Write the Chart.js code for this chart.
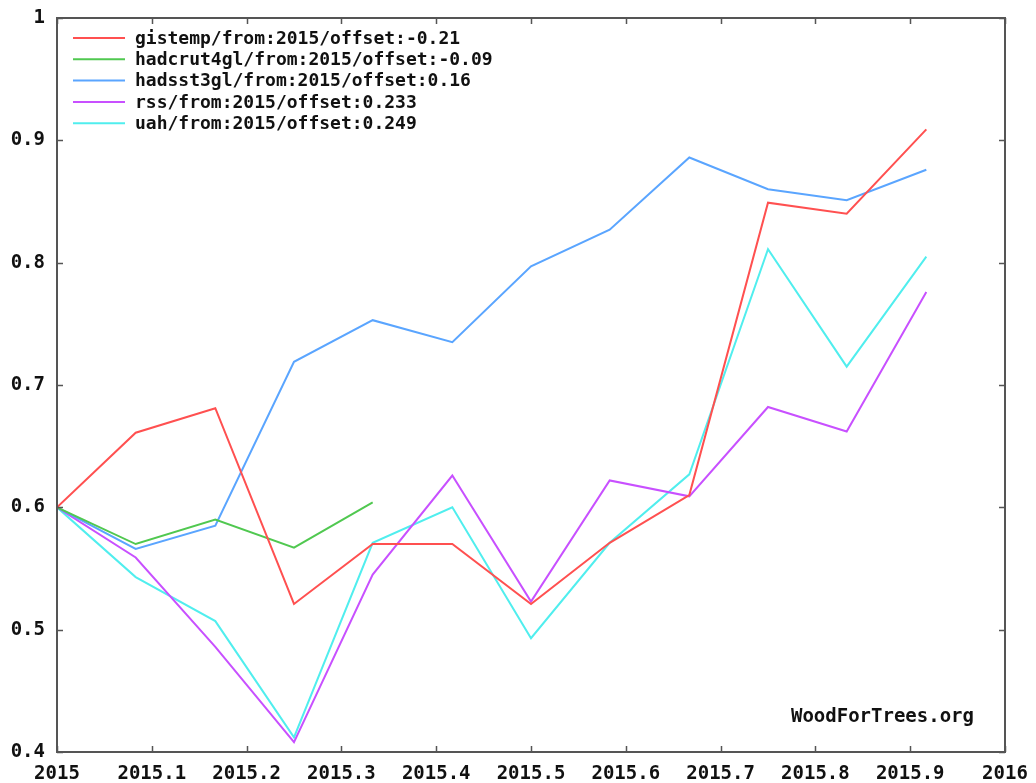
<!DOCTYPE html>
<html>
<head>
<meta charset="utf-8">
<script src="https://cdn.jsdelivr.net/npm/chart.js@4.4.0/dist/chart.umd.min.js"></script>
<style>
  html, body { margin: 0; padding: 0; background: #ffffff; }
  #wrap { width: 1036px; height: 783px; position: relative; }
</style>
</head>
<body>
<div id="wrap"><canvas id="c" width="1036" height="783"></canvas></div>
<script>
// ---- data ----
const months = [2015.000, 2015.083, 2015.167, 2015.250, 2015.333, 2015.417, 2015.500, 2015.583, 2015.667, 2015.750, 2015.833, 2015.917];
const seriesNames = [
  "gistemp/from:2015/offset:-0.21",
  "hadcrut4gl/from:2015/offset:-0.09",
  "hadsst3gl/from:2015/offset:0.16",
  "rss/from:2015/offset:0.233",
  "uah/from:2015/offset:0.249"
];
const gistemp   = [0.600, 0.661, 0.681, 0.521, 0.570, 0.570, 0.521, 0.571, 0.610, 0.849, 0.840, 0.909];
const hadcrut4gl = [0.600, 0.570, 0.590, 0.567, 0.604];
const hadsst3gl = [0.600, 0.566, 0.585, 0.719, 0.753, 0.735, 0.797, 0.827, 0.886, 0.860, 0.851, 0.876];
const rss       = [0.600, 0.559, 0.486, 0.408, 0.545, 0.626, 0.523, 0.622, 0.609, 0.682, 0.662, 0.776];
const uah       = [0.600, 0.543, 0.507, 0.412, 0.571, 0.600, 0.493, 0.571, 0.627, 0.811, 0.715, 0.805];
const xTicks = [2015, 2015.1, 2015.2, 2015.3, 2015.4, 2015.5, 2015.6, 2015.7, 2015.8, 2015.9, 2016];
const yTicks = [0.4, 0.5, 0.6, 0.7, 0.8, 0.9, 1];
const watermark = "WoodForTrees.org";

const colors = ["#ff5050", "#50c850", "#5aa5ff", "#c850ff", "#50eeee"];
const allSeries = [gistemp, hadcrut4gl, hadsst3gl, rss, uah];

const FONT = '"DejaVu Sans Mono", "Liberation Mono", monospace';

function pairs(vals) {
  return vals.map((v, i) => ({ x: months[i], y: v }));
}

const datasets = allSeries.map((vals, i) => ({
  label: seriesNames[i],
  data: pairs(vals),
  borderColor: colors[i],
  backgroundColor: colors[i],
  borderWidth: 2,
  pointRadius: 0,
  tension: 0,
  fill: false
}));

// custom plugin: frame with inward ticks, legend inside, watermark
const framePlugin = {
  id: 'frame',
  afterDatasetsDraw(chart) {
    const ctx = chart.ctx;
    const a = chart.chartArea;
    const xs = chart.scales.x, ys = chart.scales.y;
    ctx.save();
    // legend
    ctx.font = 'bold 18px ' + FONT;
    ctx.textBaseline = 'middle';
    ctx.textAlign = 'left';
    chart.data.datasets.forEach((ds, i) => {
      const y = a.top + 20 + i * 21.3;
      ctx.strokeStyle = ds.borderColor;
      ctx.lineWidth = 2;
      ctx.beginPath();
      ctx.moveTo(a.left + 16, y);
      ctx.lineTo(a.left + 68, y);
      ctx.stroke();
      ctx.fillStyle = '#111111';
      ctx.fillText(ds.label, a.left + 78, y + 1);
    });
    // watermark
    ctx.font = 'bold 19px ' + FONT;
    ctx.textAlign = 'right';
    ctx.fillStyle = '#111111';
    ctx.fillText(watermark, a.right - 31, a.bottom - 35);
    // ticks inward
    ctx.strokeStyle = '#555555';
    ctx.lineWidth = 1.5;
    ctx.beginPath();
    xTicks.forEach(v => {
      const px = Math.round(xs.getPixelForValue(v)) + 0.5;
      ctx.moveTo(px, a.bottom); ctx.lineTo(px, a.bottom - 6);
      ctx.moveTo(px, a.top); ctx.lineTo(px, a.top + 6);
    });
    yTicks.forEach(v => {
      const py = Math.round(ys.getPixelForValue(v)) + 0.5;
      ctx.moveTo(a.left, py); ctx.lineTo(a.left + 6, py);
      ctx.moveTo(a.right, py); ctx.lineTo(a.right - 6, py);
    });
    ctx.stroke();
    // border
    ctx.strokeStyle = '#555555';
    ctx.lineWidth = 2;
    ctx.strokeRect(a.left, a.top, a.right - a.left, a.bottom - a.top);
    ctx.restore();
  }
};

new Chart(document.getElementById('c'), {
  type: 'line',
  data: { datasets },
  plugins: [framePlugin],
  options: {
    responsive: false,
    animation: false,
    layout: { padding: { left: 0, right: 31, top: 18, bottom: 0 } },
    plugins: {
      legend: { display: false },
      tooltip: { enabled: false }
    },
    scales: {
      x: {
        type: 'linear',
        min: 2015,
        max: 2016,
        afterBuildTicks(scale) { scale.ticks = xTicks.map(v => ({ value: v })); },
        afterFit(scale) { scale.height = 31; scale.paddingLeft = 0; scale.paddingRight = 0; },
        grid: { display: false, drawTicks: false },
        border: { display: false },
        ticks: {
          padding: 11,
          maxRotation: 0,
          autoSkip: false,
          color: '#111111',
          font: { family: FONT, size: 19, weight: 'bold' },
          callback: (v) => (Math.abs(v - Math.round(v)) < 1e-6 ? String(Math.round(v)) : (Math.round(v * 10) / 10).toFixed(1))
        }
      },
      y: {
        type: 'linear',
        min: 0.4,
        max: 1,
        afterBuildTicks(scale) { scale.ticks = yTicks.map(v => ({ value: v })); },
        afterFit(scale) { scale.width = 57; scale.paddingTop = 0; scale.paddingBottom = 0; },
        grid: { display: false, drawTicks: false },
        border: { display: false },
        ticks: {
          padding: 12,
          autoSkip: false,
          color: '#111111',
          font: { family: FONT, size: 19, weight: 'bold' },
          callback: (v) => (Math.abs(v - 1) < 1e-6 ? '1' : (Math.round(v * 10) / 10).toFixed(1))
        }
      }
    }
  }
});
</script>
</body>
</html>
